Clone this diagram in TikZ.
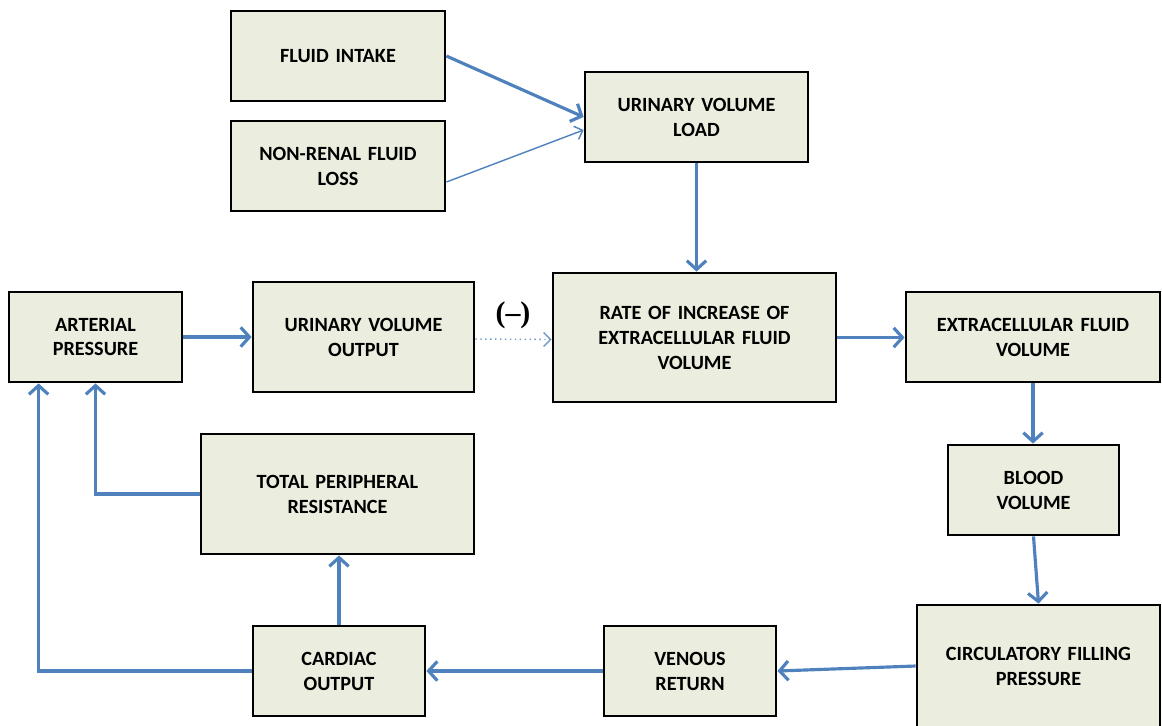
\documentclass[tikz,border=0pt]{standalone}
\usepackage{fontspec}
\setmainfont{Carlito}
\newfontfamily\signfont{Liberation Serif}
\usetikzlibrary{arrows.meta,calc}
\definecolor{boxfill}{HTML}{EBEEDE}
\definecolor{flow}{HTML}{4F81BD}
\begin{document}
\begin{tikzpicture}[x=0.02cm,y=-0.02cm,
  box/.style 2 args={draw=black, line width=1.6pt, fill=boxfill,
    minimum width=#1*0.02cm, minimum height=#2*0.02cm, inner sep=2pt,
    align=center, text width=#1*0.02cm-10pt,
    font=\bfseries\fontsize{11.5}{14.2}\selectfont},
  flowarrow/.style={draw=flow, line width=1.8pt,
    -{Straight Barb[length=5pt,width=11pt,line width=1.8pt]}},
  thinarrow/.style={draw=flow, line width=0.8pt,
    -{Straight Barb[length=4pt,width=8pt,line width=0.8pt]}},
  dotarrow/.style={draw=flow!80, line width=0.8pt, dotted,
    -{Straight Barb[length=4pt,width=8pt,line width=0.8pt]}}
]
\useasboundingbox (0,0) rectangle (1162,725);

% boxes
\node[box={214}{90}]  (intake)   at (338,56)      {FLUID INTAKE};
\node[box={214}{90}]  (nonrenal) at (338,166)     {NON-RENAL FLUID\\LOSS};
\node[box={223}{90}]  (load)     at (696.5,117)   {URINARY VOLUME\\LOAD};
\node[box={173}{90}]  (arterial) at (95.5,337)    {ARTERIAL\\PRESSURE};
\node[box={221}{110}] (uvo)      at (363.5,337)   {URINARY VOLUME\\OUTPUT};
\node[box={283}{129}] (rate)     at (694.5,337.5) {RATE OF INCREASE OF\\EXTRACELLULAR FLUID\\VOLUME};
\node[box={254}{90}]  (ecf)      at (1033,337)    {EXTRACELLULAR FLUID\\VOLUME};
\node[box={171}{90}]  (blood)    at (1033.5,490)  {BLOOD\\VOLUME};
\node[box={273}{120}] (tpr)      at (337.5,494)   {TOTAL PERIPHERAL\\RESISTANCE};
\node[box={243}{122}] (cfp)      at (1038.5,666)  {CIRCULATORY FILLING\\PRESSURE};
\node[box={172}{90}]  (venous)   at (690,671)     {VENOUS\\RETURN};
\node[box={172}{90}]  (cardiac)  at (339,671)     {CARDIAC\\OUTPUT};

% sign on the urinary output link
\node[font=\signfont\bfseries\fontsize{17}{19}\selectfont] (neg) at (513,315) {(–)};

% connectors
\draw[flowarrow] (intake.east) -- (load.west);
\draw[thinarrow] ($(nonrenal.east)+(0,16)$) -- ($(load.west)+(0,13)$);
\draw[flowarrow] (load.south) -- (load.south |- rate.north);
\draw[flowarrow] (arterial.east) -- (uvo.west);
\draw[dotarrow]  ($(uvo.east)+(0,2)$) -- ($(rate.west)+(0,2)$);
\draw[flowarrow] (rate.east) -- (rate.east -| ecf.west);
\draw[flowarrow] (ecf.south) -- (ecf.south |- blood.north);
\draw[flowarrow] (blood.south) -- (cfp.north);
\draw[flowarrow] (cfp.west) -- (venous.east);
\draw[flowarrow] (venous.west) -- (cardiac.east);
\draw[flowarrow] (cardiac.north) -- (cardiac.north |- tpr.south);
\draw[flowarrow] (cardiac.west) -| ($(arterial.south west)+(31,0)$);
\draw[flowarrow] (tpr.west) -| (arterial.south);
\end{tikzpicture}
\end{document}
